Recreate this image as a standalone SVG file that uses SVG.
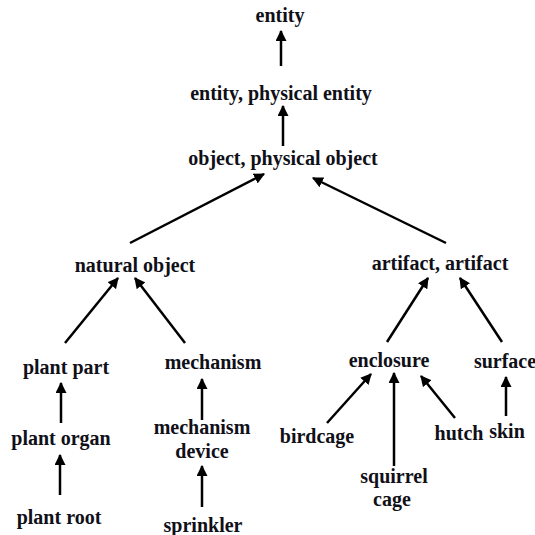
<svg xmlns="http://www.w3.org/2000/svg" width="535" height="535" viewBox="0 0 535 535">
<style>
text{font-family:"Liberation Serif","Times New Roman",serif;font-weight:bold;font-size:20px;fill:#101018;text-anchor:middle}
.c line{stroke:#000;stroke-width:2.5;marker-end:url(#ah)}
</style>
<defs>
<marker id="ah" viewBox="0 0 10 10" refX="9" refY="5" markerWidth="4.4" markerHeight="4.4" orient="auto" markerUnits="strokeWidth">
<path d="M0,0 L10,5 L0,10 z" fill="#000"/>
</marker>
</defs>
<rect width="535" height="535" fill="#fff"/>
<g class="c" id="connectors">
<line x1="281" y1="66" x2="281" y2="31"/>
<line x1="283" y1="146" x2="283" y2="106"/>
<line x1="130" y1="243" x2="264" y2="174"/>
<line x1="446" y1="243" x2="313" y2="178"/>
<line x1="65" y1="343" x2="118" y2="278"/>
<line x1="185" y1="343" x2="135" y2="278"/>
<line x1="387" y1="342" x2="428" y2="278"/>
<line x1="502" y1="342" x2="460" y2="278"/>
<line x1="61" y1="423" x2="61" y2="383"/>
<line x1="60" y1="495" x2="60" y2="455"/>
<line x1="202" y1="420" x2="202" y2="379"/>
<line x1="202" y1="507" x2="202" y2="466"/>
<line x1="327" y1="423" x2="371" y2="374"/>
<line x1="394" y1="466" x2="394" y2="373"/>
<line x1="455" y1="418" x2="421" y2="376"/>
<line x1="506" y1="416" x2="506" y2="377"/>
</g>
<g id="entity"><text x="280" y="22">entity</text></g>
<g id="physical-entity"><text x="281" y="100">entity, physical entity</text></g>
<g id="physical-object"><text x="283" y="165">object, physical object</text></g>
<g id="natural-object"><text x="135" y="272">natural object</text></g>
<g id="artifact"><text x="440" y="270">artifact, artifact</text></g>
<g id="plant-part"><text x="66" y="374">plant part</text></g>
<g id="mechanism"><text x="213" y="369">mechanism</text></g>
<g id="enclosure"><text x="389" y="367">enclosure</text></g>
<g id="surface"><text x="505" y="368">surface</text></g>
<g id="plant-organ"><text x="61" y="445">plant organ</text></g>
<g id="mechanism-device"><text x="202" y="434">mechanism</text><text x="202" y="458">device</text></g>
<g id="birdcage"><text x="317" y="443">birdcage</text></g>
<g id="hutch"><text x="459" y="440">hutch</text></g>
<g id="skin"><text x="507" y="438">skin</text></g>
<g id="squirrel-cage"><text x="394" y="483">squirrel</text><text x="392" y="506">cage</text></g>
<g id="plant-root"><text x="59" y="524">plant root</text></g>
<g id="sprinkler"><text x="203" y="532">sprinkler</text></g>
</svg>
